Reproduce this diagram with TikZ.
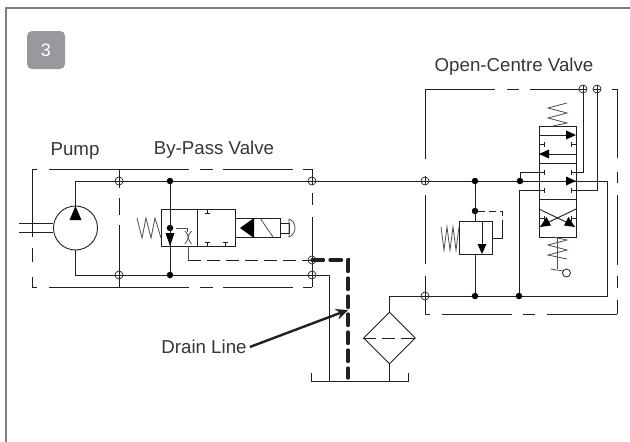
\documentclass[tikz,border=0pt]{standalone}
\usepackage{fontspec}
\setmainfont{Liberation Sans}
\usetikzlibrary{shapes.geometric,arrows.meta}
\definecolor{badgegray}{HTML}{97999C}
\definecolor{framegray}{HTML}{7F7F7F}
\definecolor{inkdark}{HTML}{231F20}
\tikzset{
    pipe/.style={draw=inkdark, line width=0.9pt},
    thinline/.style={draw=inkdark!80, line width=0.8pt},
    housing/.style={draw=inkdark, line width=0.9pt},
    pilot/.style={draw=inkdark, line width=0.8pt, dash pattern=on 12.5pt off 6.5pt},
    port/.style={circle, draw=inkdark, line width=0.7pt, fill=white, minimum size=8pt, inner sep=0pt, path picture={\draw[inkdark, line width=0.6pt] (path picture bounding box.west) -- (path picture bounding box.east) (path picture bounding box.north) -- (path picture bounding box.south);}},
    joint/.style={circle, fill=black, minimum size=6.5pt, inner sep=0pt},
    label/.style={font=\fontsize{18.7}{20}\selectfont, text=inkdark!90, inner sep=0pt},
    tip/.style={fill=black, draw=none},
    cell/.style={draw=inkdark, line width=0.9pt}
}
\newcommand{\blocktee}[3]{\draw[pipe] (#1,#2) -- ++(#3,0) ++(0,-2.5) -- ++(0,5);}
\newcommand{\stemtee}[3]{\draw[pipe] (#1,#2) -- ++(0,#3) ++(-2.5,0) -- ++(5,0);}
\begin{document}
\begin{tikzpicture}[x=1pt, y=-1pt]
\useasboundingbox (0,0) rectangle (630,442);
% frame and badge
\draw[framegray, line width=1.6pt] (6,442) -- (6,8) -- (630,8);
\node[fill=badgegray, rounded corners=5pt, minimum size=38pt, inner sep=0pt, text=white, font=\fontsize{18}{20}\selectfont] (badge) at (46,50) {3};

% housings
\draw[housing, dash pattern=on 5pt off 12pt on 140pt off 11pt on 13pt off 10pt on 70pt off 10pt on 30pt] (32,169) -- (312,169);
\draw[housing, dash pattern=on 5pt off 12pt on 140pt off 11pt on 13pt off 10pt on 70pt off 10pt on 30pt] (32,287) -- (312,287);
\draw[housing, dash pattern=on 68pt off 11pt on 14pt off 15pt on 12pt] (32,169) -- (32,287);
\draw[housing, dash pattern=on 19pt off 10pt on 17pt off 10pt on 70pt] (119,169) -- (119,287);
\draw[housing, dash pattern=on 16pt off 8pt on 12pt off 12pt on 80pt] (312,169) -- (312,287);
\draw[housing, dash pattern=on 70pt off 12pt on 12pt off 11pt on 53pt off 29pt on 5pt off 300pt] (425,89) -- (617,89);
\draw[housing, dash pattern=on 69pt off 14pt on 11pt off 12pt on 70pt off 11pt on 12pt off 12pt on 20pt] (617,89) -- (617,314);
\draw[housing, dash pattern=on 70pt off 17pt on 9pt off 10pt on 69pt off 12pt on 50pt] (425,89) -- (425,314);
\draw[housing, dash pattern=on 5pt off 12pt on 70pt off 11pt on 12pt off 12pt on 80pt] (425,314) -- (617,314);

% named points
\node[port] (p1) at (119,181) {};
\node[port] (p2) at (119,275) {};
\node[port] (p3) at (312,181) {};
\node[port] (p4) at (312,260) {};
\node[port] (p5) at (312,275) {};
\node[port] (p6) at (425,181) {};
\node[port] (p7) at (425,296) {};
\node[port] (p8) at (583,89) {};
\node[port] (p9) at (597,89) {};
\node[circle, draw=inkdark, line width=0.9pt, minimum size=44pt, inner sep=0pt] (pump) at (75.5,228) {};
\coordinate (pumptop) at (75.5,181);
\coordinate (pumpbot) at (75.5,275);
\coordinate (shaftA) at (19,223);
\coordinate (shaftB) at (19,232);
\coordinate (farcorner) at (607,181);
\coordinate (farbot) at (607,296);
\coordinate (tankL) at (311,373);
\coordinate (tankR) at (408,373);

% pipes
\draw[pipe] (pump.north) -- (pumptop) -- (p1);
\draw[pipe] (pump.south) -- (pumpbot) -- (p2);
\draw[pipe] (shaftA) -- (53,223);
\draw[pipe] (shaftB) -- (53,232);
\draw[pipe] (p1) -- (p3) -- (p6) -- (farcorner) -- (farbot) -- (p7);
\draw[pipe] (p2) -- (p5) -- (329.5,275) -- (329.5,381);
\fill[tip] (75.5,206) -- (81.5,220) -- (69.5,220) -- cycle;

% by-pass valve
\draw[cell] (161,209) rectangle (197,246);
\draw[cell] (197,209) rectangle (235,246);
\node[joint] (j1) at (170,181) {};
\node[joint] (j2) at (170,275) {};
\node[joint] (j3) at (170,228) {};
\draw[pipe] (j1) -- (j2);
\fill[tip] (170,246) -- (165.5,233) -- (174.5,233) -- cycle;
\draw[thinline] (161,238) -- (155,218) -- (151,238) -- (146,218) -- (142,238) -- (137,218);
\draw[thinline] (176,228) -- (187,228) -- (187,232);
\draw[thinline] (185,231) .. controls (189.5,237) .. (185,244);
\draw[thinline] (191.5,231) .. controls (187,237) .. (191.5,244);
\draw[thinline] (188,246) -- (188,260);
\draw[pilot] (188,260) -- (p4);
\stemtee{207}{209}{4}
\stemtee{207}{246}{-4}
\stemtee{225}{246}{-4}
\draw[cell] (235,218) rectangle (280,237);
\fill[tip] (240,228) -- (254,218) -- (254,238) -- cycle;
\draw[thinline] (260,218) -- (273,237);
\draw[cell] (280,223) rectangle (289,233);
\draw[thinline] (289,219) .. controls (297,222) and (297,234) .. (289,237) -- cycle;

% drain line
\draw[inkdark, line width=3.3pt, line cap=round, dash pattern=on 11.5pt off 6.5pt] (p4.center) -- (348,260) -- (348,378);
\draw[pipe] (tankL) -- (311,381) -- (408,381) -- (tankR);

% filter
\node[draw=inkdark, line width=0.9pt, diamond, aspect=1, minimum size=52pt, inner sep=0pt] (filter) at (389.5,338) {};
\draw[pilot] (filter.west) -- (filter.east);
\draw[pipe] (p7) -- (389.5,296) -- (filter.north);
\draw[pipe] (filter.south) -- (389.5,381);

% relief valve
\draw[cell] (459,221) rectangle (492,254);
\node[joint] (j4) at (475,181) {};
\node[joint] (j5) at (475,211) {};
\node[joint] (j6) at (475,296) {};
\node[joint] (j7) at (519,296) {};
\node[joint] (j8) at (520,181) {};
\draw[pipe] (j4) -- (475,221);
\draw[pipe] (475,254) -- (j6);
\draw[pilot, dash pattern=on 7pt off 4pt] (j5) -- (502,211) -- (502,222);
\draw[pipe] (502,222) -- (502,238) -- (492,238);
\draw[pipe] (482,221) -- (482,244);
\fill[tip] (482,254) -- (477.5,244) -- (486.5,244) -- cycle;
\draw[thinline] (459,227) -- (456,250) -- (453,227) -- (450,250) -- (447,227) -- (444,250) -- (441,227);

% directional valve
\draw[cell] (539,126) rectangle (576,163);
\draw[cell] (539,163) rectangle (576,199);
\draw[cell] (539,199) rectangle (576,237);
\draw[thinline] (567,103) -- (548,108) -- (567,113) -- (548,118) -- (567,123) -- (553,126);
\draw[pipe] (539,135) -- (566,135);
\fill[tip] (576,135) -- (566,130.5) -- (566,139.5) -- cycle;
\draw[pipe] (576,154) -- (549,154);
\fill[tip] (539,154) -- (549,149.5) -- (549,158.5) -- cycle;
\blocktee{539}{144}{5}
\blocktee{576}{144}{-5}
\draw[pipe] (j8) -- (520,172) -- (544,172) ++(0,-2.5) -- ++(0,5);
\draw[pipe] (p8) -- (583,172) -- (571,172) ++(0,-2.5) -- ++(0,5);
\draw[pipe] (j7) -- (519,190.5) -- (544,190.5) ++(0,-2.5) -- ++(0,5);
\draw[pipe] (p9) -- (597,190.5) -- (571,190.5) ++(0,-2.5) -- ++(0,5);
\fill[tip] (576,181) -- (566,176.5) -- (566,185.5) -- cycle;
\draw[pipe] (539,209) -- (566,222);
\draw[pipe] (576,209) -- (549,222);
\fill[tip] (575,227) -- (564,225.5) -- (568.5,217) -- cycle;
\fill[tip] (540,227) -- (551,225.5) -- (546.5,217) -- cycle;
\blocktee{539}{218}{5}
\blocktee{576}{218}{-5}
\draw[thinline] (557.5,237) -- (557.5,269);
\draw[thinline] (553,237) -- (567,240) -- (548,245) -- (567,250) -- (548,255) -- (567,259);
\draw[thinline] (550.5,269) -- (563,271);
\node[circle, draw=inkdark, line width=0.8pt, fill=white, minimum size=8pt, inner sep=0pt] (roller) at (566.5,273) {};

% labels
\node[label] (pumplabel) at (75,151) {Pump};
\node[label] (bypasslabel) at (214,150) {By-Pass Valve};
\node[label] (openlabel) at (514,67) {Open-Centre Valve};
\node[label] (drainlabel) at (204,347) {Drain Line};
\draw[-{Stealth[length=12pt,width=11pt]}, inkdark, line width=2.4pt] (drainlabel.east) ++(3,0) -- (348,310);
\end{tikzpicture}
\end{document}
